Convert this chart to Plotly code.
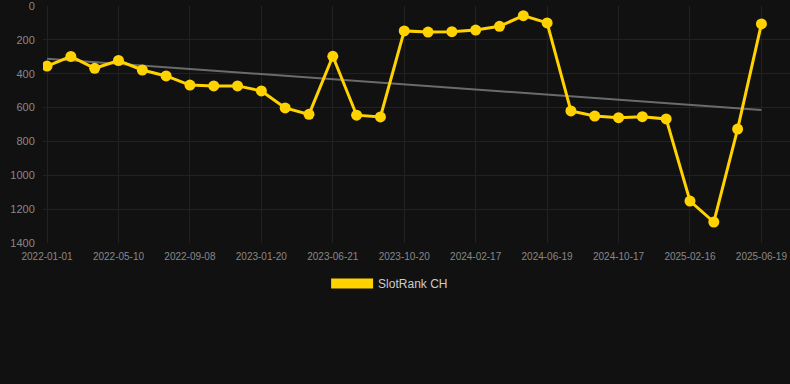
import plotly.graph_objects as go

dates = [
    "2022-01-01", "2022-02-13", "2022-03-28", "2022-05-10", "2022-06-19", "2022-07-29",
    "2022-09-08", "2022-10-22", "2022-12-06", "2023-01-20", "2023-03-10", "2023-04-30",
    "2023-06-21", "2023-07-31", "2023-09-09", "2023-10-20", "2023-11-29", "2024-01-08",
    "2024-02-17", "2024-03-29", "2024-05-09", "2024-06-19", "2024-07-29", "2024-09-07",
    "2024-10-17", "2024-11-26", "2025-01-06", "2025-02-16", "2025-03-29", "2025-05-09",
    "2025-06-19",
]
rank = [355, 298, 368, 322, 378, 413, 467, 472, 472, 502, 602, 640, 297, 645, 655,
        147, 154, 152, 142, 120, 57, 100, 620, 650, 660, 654, 667, 1152, 1276, 727, 106]
tick_labels = dates[::3]
trend_dates = [dates[0], dates[-1]]
trend_values = [311, 614]
series_name = "SlotRank CH"

gold = "#FFD200"
fig = go.Figure()
fig.add_trace(go.Scatter(x=trend_dates, y=trend_values, mode="lines",
                         line=dict(color="#6b6b6b", width=2), showlegend=False,
                         hoverinfo="skip"))
fig.add_trace(go.Scatter(x=dates, y=rank, mode="lines+markers",
                         line=dict(color=gold, width=3),
                         marker=dict(color=gold, size=11),
                         showlegend=False, name=series_name))
fig.add_trace(go.Scatter(x=[None], y=[None], mode="lines",
                         line=dict(color=gold, width=12), name=series_name,
                         showlegend=True))

fig.update_layout(
    width=790, height=384,
    paper_bgcolor="#111111", plot_bgcolor="#111111",
    margin=dict(l=43, r=0, t=6, b=141),
    font=dict(family="Liberation Sans, Arial, sans-serif", color="#888888"),
    showlegend=True,
    legend=dict(orientation="h", x=0.464, xanchor="center", y=-0.11, yanchor="top",
                itemwidth=42, font=dict(size=12, color="#cccccc")),
)
fig.update_xaxes(type="category", categoryorder="array", categoryarray=dates,
                 range=[-0.17, 31.2], tickvals=tick_labels, ticktext=tick_labels,
                 tickfont=dict(size=10, color="#888888"),
                 showgrid=True, gridcolor="#222222", gridwidth=1,
                 zeroline=False, showline=False, ticks="outside", ticklen=4,
                 tickcolor="rgba(0,0,0,0)", ticklabeloverflow="allow")
fig.update_yaxes(range=[1400, 0], tickvals=[0, 200, 400, 600, 800, 1000, 1200, 1400],
                 tickfont=dict(size=11, color="#888888"),
                 showgrid=True, gridcolor="#222222", gridwidth=1,
                 zeroline=False, showline=False, ticks="outside", ticklen=5,
                 tickcolor="rgba(0,0,0,0)", ticklabeloverflow="allow")

fig.write_html("out.html", config={"displayModeBar": False},
               post_script="document.body.style.margin='0';document.body.style.background='#111111';")
